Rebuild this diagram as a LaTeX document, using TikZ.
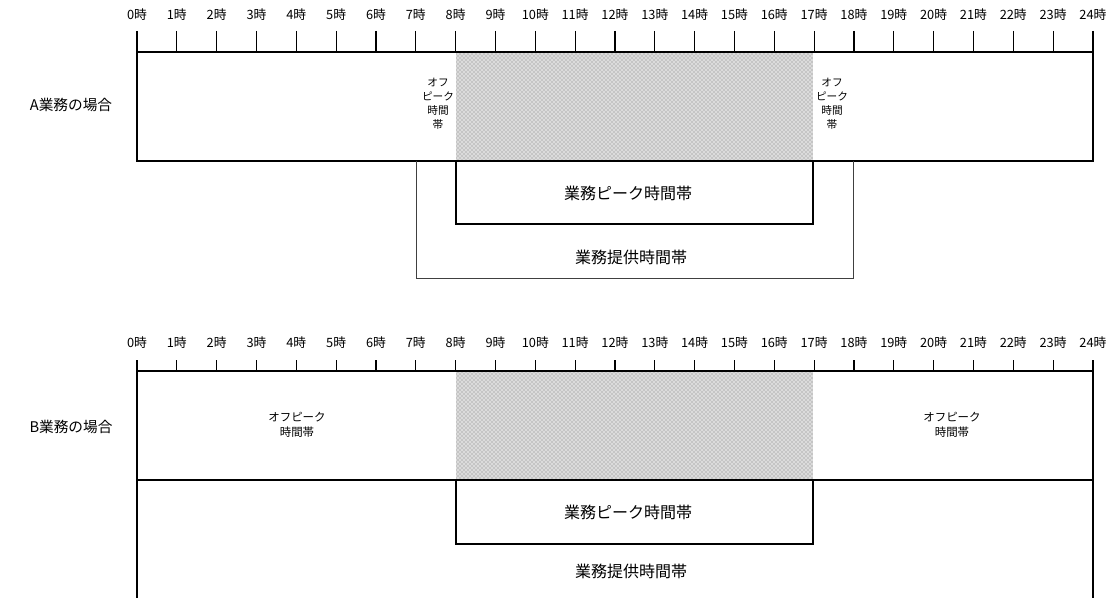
\documentclass[tikz,border=0pt]{standalone}
\usepackage{fontspec}
\setmainfont{Noto Sans CJK JP}
\usetikzlibrary{patterns}
\begin{document}
\begin{tikzpicture}[x=0.75pt,y=-0.75pt,
  hourlbl/.style={font=\fontsize{9.6}{10}\selectfont, inner sep=0pt},
  tickln/.style={line width=0.9pt},
  mainbox/.style={line width=1.5pt},
  peakbox/.style={line width=1.1pt},
  provbox/.style={line width=0.6pt, black!75},
  provboxB/.style={line width=1.1pt},
  casel/.style={font=\fontsize{11}{13}\selectfont, inner sep=0pt},
  bandl/.style={font=\fontsize{12}{14}\selectfont, inner sep=0pt},
  offl/.style={font=\fontsize{8}{10.5}\selectfont, align=center, inner sep=0pt},
  offlB/.style={font=\fontsize{8.6}{11}\selectfont, align=center, inner sep=0pt}]
\useasboundingbox (0,0) rectangle (1116,598);
% ---------------- A ----------------
\foreach \h in {0,...,24} {
  \draw[tickln] ({137+39.83*\h},31) -- ({137+39.83*\h},52);
  \node[hourlbl] (ta\h) at ({137+39.83*\h},15) {\h{}時};
}
\fill[black!14] (456,52) rectangle (813,161);
\fill[pattern=crosshatch dots, pattern color=black!50] (456,52) rectangle (813,161);
\draw[mainbox] (137,52) rectangle (1093,161);
\node[casel] (la) at (71,105) {A業務の場合};
\node[offl] (oa1) at (438,104) {オフ\\ピーク\\時間\\帯};
\node[offl] (oa2) at (832,104) {オフ\\ピーク\\時間\\帯};
\draw[peakbox] (456,161) -- (456,224) -- (813,224) -- (813,161);
\node[bandl] (pa) at (628,193) {業務ピーク時間帯};
\draw[provbox] (416,161) -- (416,278) -- (853,278) -- (853,161);
\node[bandl] (sa) at (631,257) {業務提供時間帯};
% ---------------- B ----------------
\foreach \h in {0,...,24} {
  \draw[tickln] ({137+39.83*\h},360) -- ({137+39.83*\h},371);
  \node[hourlbl] (tb\h) at ({137+39.83*\h},343) {\h{}時};
}
\fill[black!14] (456,371) rectangle (813,480);
\fill[pattern=crosshatch dots, pattern color=black!50] (456,371) rectangle (813,480);
\draw[mainbox] (137,371) rectangle (1093,480);
\node[casel] (lb) at (71,427) {B業務の場合};
\node[offlB] (ob1) at (297,425) {オフピーク\\時間帯};
\node[offlB] (ob2) at (952,425) {オフピーク\\時間帯};
\draw[peakbox] (456,480) -- (456,544) -- (813,544) -- (813,480);
\node[bandl] (pb) at (628,512) {業務ピーク時間帯};
\draw[provboxB] (137,480) -- (137,600);
\draw[provboxB] (1093,480) -- (1093,600);
\node[bandl] (sb) at (631,571) {業務提供時間帯};
\end{tikzpicture}
\end{document}
